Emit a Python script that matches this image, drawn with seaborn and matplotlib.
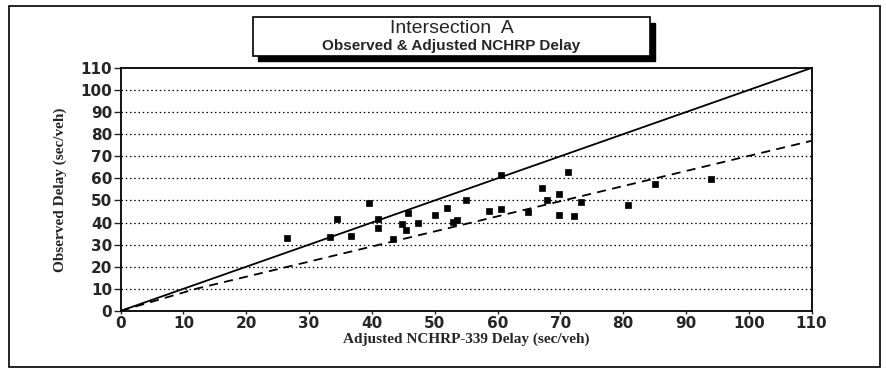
import matplotlib
matplotlib.use("Agg")
import matplotlib.pyplot as plt
import matplotlib.patches as mpatches
import seaborn as sns
import pandas as pd

sns.set_style("white")
plt.rcParams['font.family'] = ['DejaVu Sans']

# Scatter points
adjusted = [26.5, 33.4, 34.4, 36.6, 39.6, 41.0, 40.9, 43.4, 44.8, 45.4, 45.7, 47.4,
            50.0, 52.0, 52.9, 53.5, 55.0, 58.6, 60.6, 60.6, 64.9, 67.1, 67.9, 69.8,
            69.8, 71.2, 72.1, 73.3, 80.7, 85.1, 94.0]
observed = [33.2, 33.5, 41.8, 33.9, 48.9, 41.6, 37.7, 32.4, 39.2, 36.4, 44.1, 39.8,
            43.3, 46.6, 40.4, 41.0, 50.1, 45.1, 61.5, 46.3, 44.8, 55.7, 50.0, 52.8,
            43.3, 62.8, 43.0, 49.2, 47.8, 57.6, 59.6]

# Reference lines
equal_x = [0, 110]
equal_y = [0, 110]
fit_x = [0, 12, 110]
fit_y = [0, 10, 77]

ticks = list(range(0, 111, 10))

df = pd.DataFrame({'Adjusted': adjusted, 'Observed': observed})

fig = plt.figure(figsize=(8.87, 3.71), dpi=100)
ax = fig.add_axes([0.136, 0.162, 0.779, 0.655])

# dotted horizontal grid
for t in ticks[1:-1]:
    ax.axhline(t, color='black', lw=0.9, ls=(0, (1.2, 2.2)), zorder=1)

sns.lineplot(x=equal_x, y=equal_y, ax=ax, color='black', lw=1.3, zorder=3)
sns.lineplot(x=fit_x, y=fit_y, ax=ax, color='black', lw=1.3, ls=(0, (5, 3.5)), zorder=3)
sns.scatterplot(data=df, x='Adjusted', y='Observed', ax=ax, color='black',
                marker='s', s=18, edgecolor='black', linewidth=0.5, zorder=4)

ax.set_xlim(0, 110)
ax.set_ylim(0, 110)
ax.set_xticks(ticks)
ax.set_yticks(ticks)
ax.set_xticklabels([str(t) for t in ticks], fontsize=11, fontweight='bold')
ax.set_yticklabels([str(t) for t in ticks], fontsize=11, fontweight='bold')
ax.tick_params(axis='y', direction='out', length=5, width=1, pad=1, left=True)
ax.tick_params(axis='x', direction='out', length=2, width=1, pad=2, bottom=True)
for sp in ax.spines.values():
    sp.set_color('black')
    sp.set_linewidth(1.3)

ax.set_xlabel('Adjusted NCHRP-339 Delay (sec/veh)', family='Liberation Serif',
              fontweight='bold', fontsize=11, labelpad=1)
ax.set_ylabel('Observed Delay (sec/veh)', family='Liberation Serif',
              fontweight='bold', fontsize=11, labelpad=10)

# outer frame
fig.patches.append(mpatches.Rectangle((0.010, 0.012), 0.982, 0.972, transform=fig.transFigure,
                                      fill=False, edgecolor='black', lw=1.2))

# title box with drop shadow
bx, by, bw, bh = 0.285, 0.850, 0.448, 0.103
fig.patches.append(mpatches.Rectangle((bx + 0.006, by - 0.014), bw, bh, transform=fig.transFigure,
                                      facecolor='black', edgecolor='black', lw=1))
fig.patches.append(mpatches.Rectangle((bx, by), bw, bh, transform=fig.transFigure,
                                      facecolor='white', edgecolor='black', lw=1.2))
fig.text(bx + bw / 2, by + bh * 0.70, 'Intersection  A', ha='center', va='center',
         fontsize=14, family='Liberation Sans')
fig.text(bx + bw / 2, by + bh * 0.26, 'Observed & Adjusted NCHRP Delay', ha='center',
         va='center', fontsize=11, fontweight='bold', family='Liberation Sans')

fig.savefig('out.png', dpi=100)
